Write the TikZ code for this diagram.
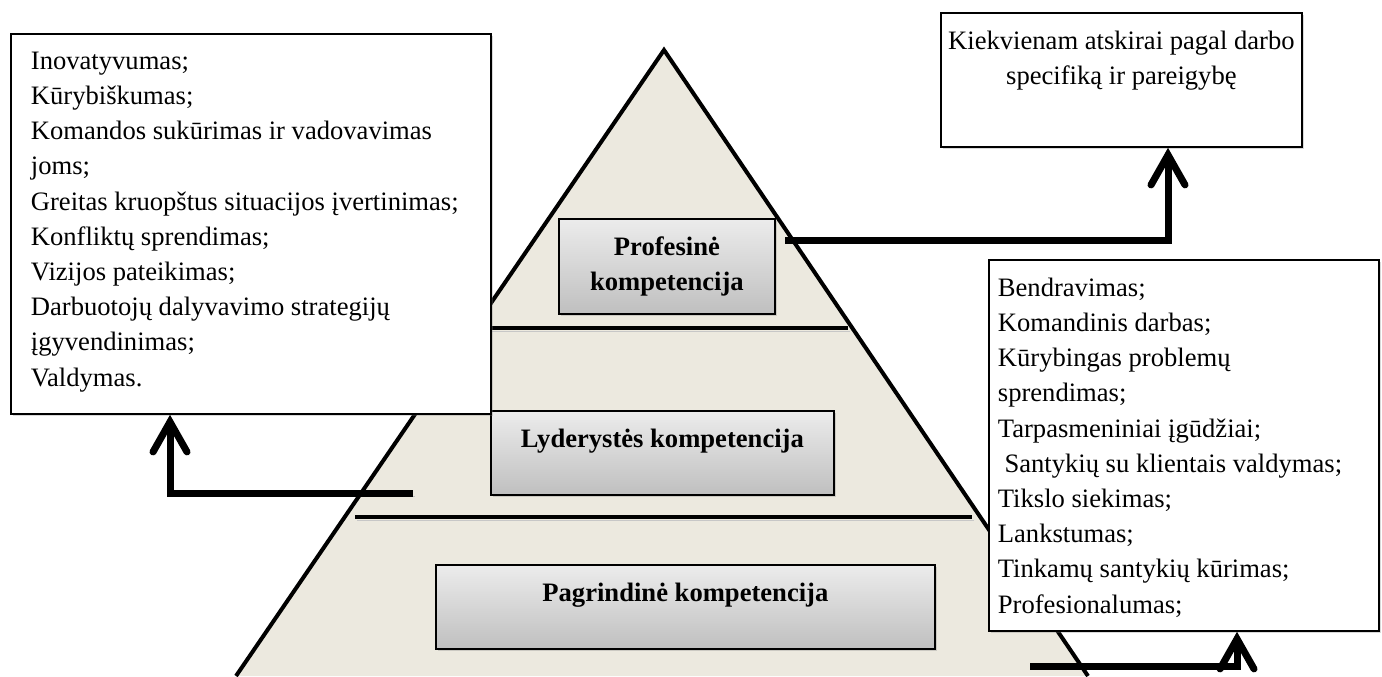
\documentclass[tikz,border=0pt]{standalone}
\usepackage{fontspec}
\setmainfont{Liberation Serif}
\usepackage{xcolor}
\usetikzlibrary{arrows.meta, calc, shadows}

\definecolor{pyrfill}{HTML}{ECE9DF}

\begin{document}
\begin{tikzpicture}[
  x=0.5pt, y=-0.5pt,
  font=\fontsize{13.3}{17.6}\selectfont,
  edge/.style={line width=2pt},
  soft/.style={preaction={draw=black!22, transform canvas={shift={(1pt,-1.5pt)}}}},
  tier/.style={line width=2.2pt, soft},
  shade/.style={drop shadow={shadow xshift=1.2pt, shadow yshift=-1.2pt, opacity=0.3}},
  lvl/.style={draw, line width=0.9pt, top color=gray!15, bottom color=gray!50,
              anchor=north west, inner xsep=2pt, inner ysep=9pt, shade,
              font=\fontsize{13.3}{17.6}\selectfont\bfseries},
  list/.style={draw, line width=0.9pt, fill=white, anchor=north west,
               inner ysep=9pt, shade},
  bigarr/.style={-{Straight Barb[length=15pt, width=17pt, line cap=round]},
                 line width=3.5pt, soft},
]
\useasboundingbox (0,0) rectangle (1382,676);

% ============ PYRAMID ============
\coordinate (apex)  at (664,50);
\coordinate (baseL) at (236,676);
\coordinate (baseR) at (1088,676);
\fill[pyrfill] (apex) -- (baseL) -- (baseR) -- cycle;
\draw[edge] (baseL) -- (apex) -- (baseR);

% tier dividers
\coordinate (t1a) at (480,328);
\coordinate (t1b) at (848,328);
\coordinate (t2a) at (355,517);
\coordinate (t2b) at (972,517);
\draw[tier] (t1a) -- (t1b);
\draw[tier] (t2a) -- (t2b);

% ============ LEVELS ============
\node[lvl] (prof) at (558,218)
  {\parbox[c][29.5pt][t]{104pt}{\centering Profesinė\\kompetencija}};
\node[lvl] (lyd) at (490,410)
  {\parbox[c][24pt][t]{167.5pt}{\centering Lyderystės kompetencija}};
\node[lvl] (pagr) at (435,564)
  {\parbox[c][24pt][t]{245.5pt}{\centering Pagrindinė kompetencija}};

% ============ LISTS ============
% leadership skills (left)
\node[list, inner xsep=10pt] (lead) at (10,33)
  {\parbox[c][172pt][t]{220pt}{Inovatyvumas;\\
   Kūrybiškumas;\\
   Komandos sukūrimas ir vadovavimas\\
   joms;\\
   Greitas kruopštus situacijos įvertinimas;\\
   Konfliktų sprendimas;\\
   Vizijos pateikimas;\\
   Darbuotojų dalyvavimo strategijų\\
   įgyvendinimas;\\
   Valdymas.}};

% professional (top right)
\node[list, inner xsep=2pt] (goal) at (940,12)
  {\parbox[c][49pt][t]{176.5pt}{\centering Kiekvienam atskirai pagal darbo\\
   specifiką ir pareigybę}};

% core skills (right)
\node[list, inner xsep=4.5pt] (core) at (988,259)
  {\parbox[c][167.5pt][t]{186pt}{Bendravimas;\\
   Komandinis darbas;\\
   Kūrybingas problemų\\
   sprendimas;\\
   Tarpasmeniniai įgūdžiai;\\
   \hspace*{3.3pt}Santykių su klientais valdymas;\\
   Tikslo siekimas;\\
   Lankstumas;\\
   Tinkamų santykių kūrimas;\\
   Profesionalumas;}};

% ============ ARROWS ============
\coordinate (lfrom) at (413,493);
\coordinate (tfrom) at (785,240);
\coordinate (bfrom) at (1030,666);
\draw[bigarr] (lfrom) -| ($(lead.south west)+(160,0)$);
\draw[bigarr] (tfrom) -| ($(goal.south west)+(228,0)$);
\draw[bigarr] (bfrom) -| ($(core.south west)+(249,0)$);

\end{tikzpicture}
\end{document}
